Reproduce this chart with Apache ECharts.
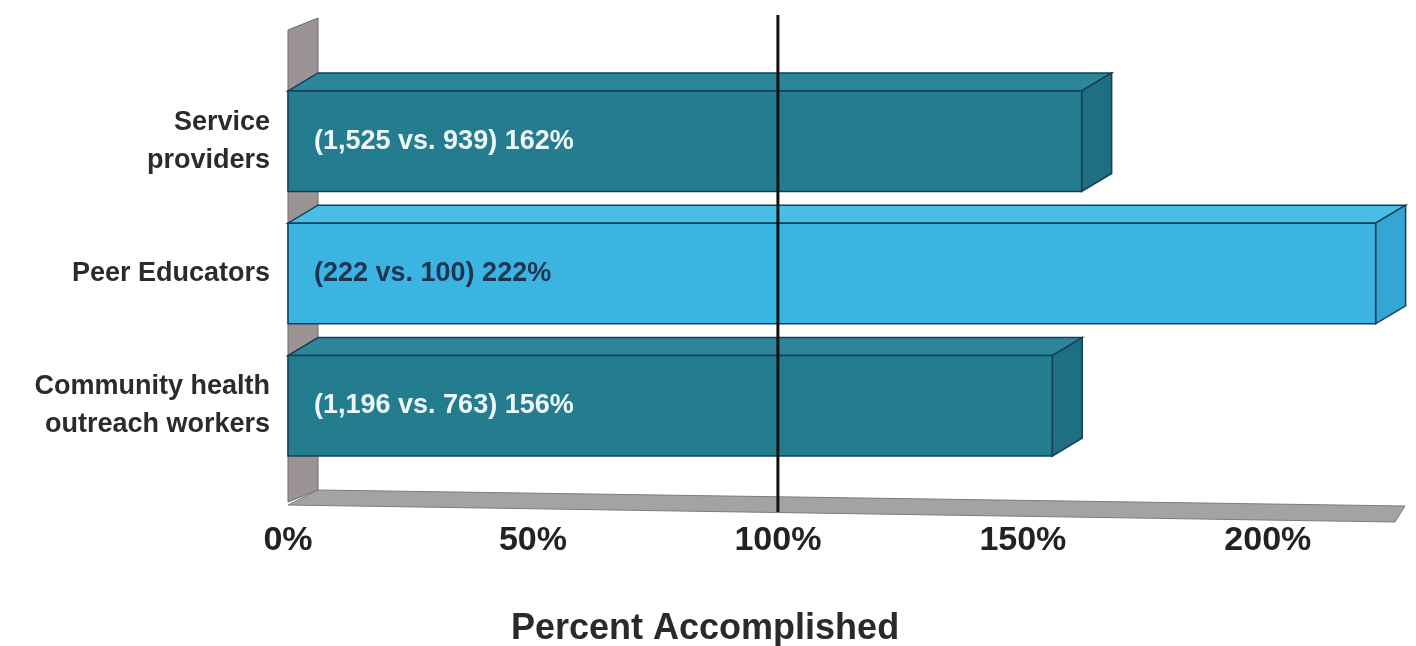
<!DOCTYPE html>
<html>
<head>
<meta charset="utf-8">
<script src="https://cdn.jsdelivr.net/npm/echarts@6/dist/echarts.min.js"></script>
<style>
  html, body { margin: 0; padding: 0; background: #fff; }
  #chart { width: 1416px; height: 646px; }
</style>
</head>
<body>
<div id="chart"></div>
<script>
// data
const categories = ['Service\nproviders', 'Peer Educators', 'Community health\noutreach workers'];
const percentValues = [162, 222, 156];
const countLabels = ['(1,525 vs. 939)', '(222 vs. 100)', '(1,196 vs. 763)'];
const targetPercent = 100;

const frontColors = ['#247c8f', '#3cb4e2', '#247c8f'];
const topColors = ['#2a8698', '#48bde6', '#2a8698'];
const sideColors = ['#1f6f82', '#34a6d3', '#1f6f82'];
const labelColors = ['#eef8fb', '#1b3552', '#eef8fb'];
const edge = '#173d58';
const FONT = '"Liberation Sans", Arial, sans-serif';

const DX = 30, DY = -18;

let chart = echarts.init(document.getElementById('chart'));

function renderBar(params, api){
    let i = params.dataIndex;
    let start = api.coord([0, api.value(1)]);
    let end = api.coord([api.value(0), api.value(1)]);
    let band = api.size([0, 1])[1];
    let h = band * 0.76;
    let x0 = start[0], x1 = end[0];
    let yt = end[1] - h / 2, yb = end[1] + h / 2;
    return {
        type: 'group',
        children: [
            {type: 'polygon', shape: {points: [[x0, yt], [x1, yt], [x1 + DX, yt + DY], [x0 + DX, yt + DY]]},
             style: {fill: topColors[i], stroke: edge, lineWidth: 1.5}},
            {type: 'polygon', shape: {points: [[x1, yt], [x1 + DX, yt + DY], [x1 + DX, yb + DY], [x1, yb]]},
             style: {fill: sideColors[i], stroke: edge, lineWidth: 1.5}},
            {type: 'rect', shape: {x: x0, y: yt, width: x1 - x0, height: h},
             style: {fill: frontColors[i], stroke: edge, lineWidth: 1.5}},
            {type: 'text', x: x0 + 26, y: end[1],
             style: {text: countLabels[i] + ' ' + percentValues[i] + '%', fill: labelColors[i],
                     font: 'bold 27px ' + FONT, verticalAlign: 'middle'}}
        ]
    };
}

function renderFrame(params, api){
    let r = params.coordSys;
    let x0 = r.x, xe = r.x + r.width;
    let bottom = r.y + r.height;
    return {
        type: 'group',
        children: [
            // left wall
            {type: 'polygon', shape: {points: [[x0, bottom + 30], [x0, r.y - 45], [x0 + DX, r.y - 57], [x0 + DX, bottom + 18]]},
             style: {fill: '#9c9494', stroke: '#6f6a6a', lineWidth: 1}},
            // floor
            {type: 'polygon', shape: {points: [[x0, bottom + 33], [x0 + DX, bottom + 18], [xe, bottom + 34], [xe - 10, bottom + 50]]},
             style: {fill: '#a3a3a3', stroke: '#7c7c7c', lineWidth: 1}}
        ]
    };
}

function renderTarget(params, api){
    let r = params.coordSys;
    let p = api.coord([api.value(0), 0]);
    return {
        type: 'line',
        shape: {x1: p[0], y1: r.y - 60, x2: p[0], y2: r.y + r.height + 40},
        style: {stroke: '#111', lineWidth: 3}
    };
}

let option = {
    backgroundColor: '#ffffff',
    animation: false,
    title: {
        text: 'Percent Accomplished',
        left: 506,
        top: 606,
        textStyle: {fontFamily: FONT, fontWeight: 'bold', fontSize: 36, color: '#2a2a2a'}
    },
    grid: {left: 288, right: 11, top: 75, bottom: 174},
    xAxis: {
        type: 'value',
        min: 0,
        max: 228,
        interval: 50,
        splitLine: {show: false},
        axisLine: {show: false},
        axisTick: {show: false},
        axisLabel: {
            formatter: '{value}%',
            margin: 52,
            showMaxLabel: false,
            color: '#222',
            fontFamily: FONT,
            fontWeight: 'bold',
            fontSize: 34
        }
    },
    yAxis: {
        type: 'category',
        data: categories,
        inverse: true,
        axisLine: {show: false},
        axisTick: {show: false},
        splitLine: {show: false},
        axisLabel: {
            margin: 18,
            color: '#2b2b2b',
            fontFamily: FONT,
            fontWeight: 'bold',
            fontSize: 27,
            lineHeight: 38,
            align: 'right'
        }
    },
    series: [
        {
            type: 'custom',
            z: 1,
            renderItem: renderFrame,
            data: [[0, 0]],
            silent: true
        },
        {
            type: 'custom',
            z: 2,
            renderItem: renderBar,
            encode: {x: 0, y: 1},
            data: percentValues.map((v, i) => [v, i])
        },
        {
            type: 'custom',
            z: 3,
            renderItem: renderTarget,
            data: [[targetPercent]],
            silent: true
        }
    ]
};

chart.setOption(option);
</script>
</body>
</html>
